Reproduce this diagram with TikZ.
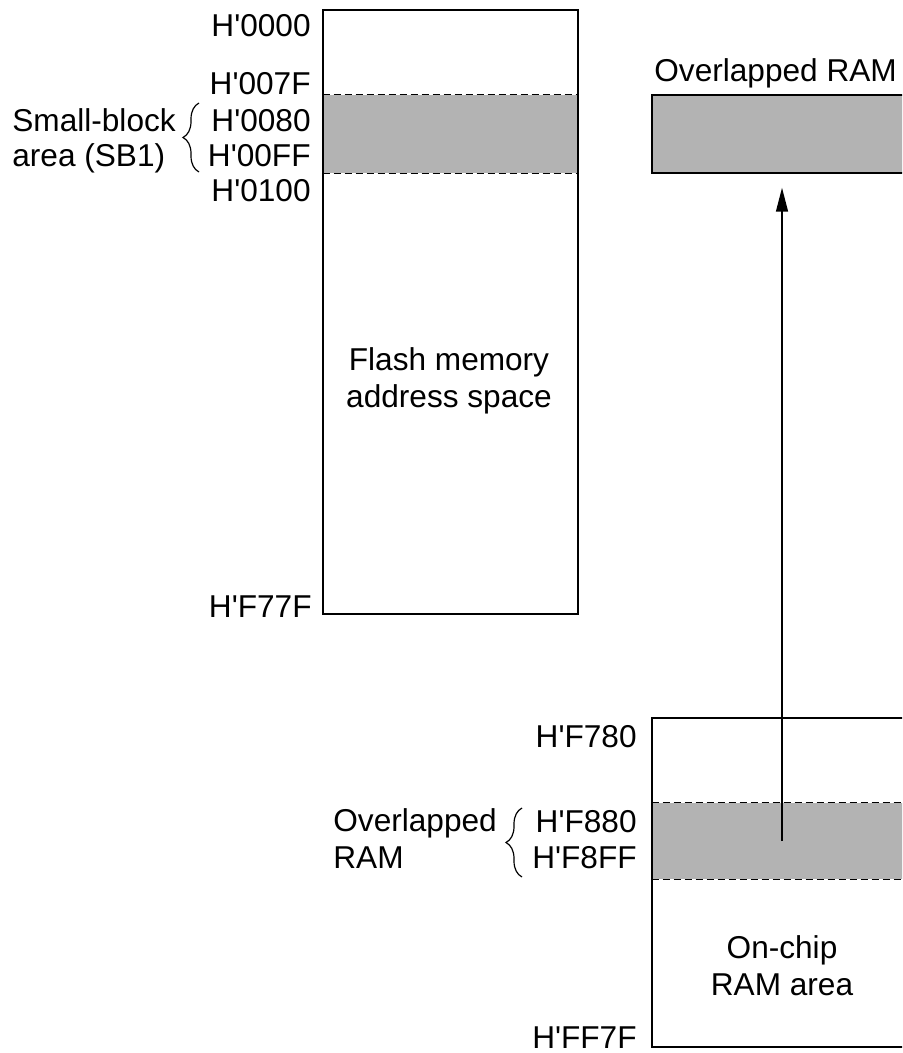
\documentclass[tikz,border=0pt]{standalone}
\usepackage{fontspec}
\setmainfont{Liberation Sans}
\usetikzlibrary{arrows.meta,decorations.pathreplacing}
\definecolor{bandcol}{RGB}{179,179,179}
\newcommand{\hx}[1]{H\textquotesingle#1}
\tikzset{
  membox/.style={draw,line width=0.75pt,inner sep=0pt},
  band/.style={fill=bandcol,inner sep=0pt},
  bandedge/.style={dash pattern=on 3.5pt off 2pt,line width=0.75pt},
  addr/.style={anchor=base east,inner sep=0pt,font=\fontsize{15.8}{18.5}\selectfont},
  note/.style={anchor=base west,align=left,inner sep=0pt,font=\fontsize{15.8}{18.5}\selectfont},
  caption/.style={anchor=base,align=center,inner sep=0pt,font=\fontsize{15.8}{18.5}\selectfont},
  arrow/.style={-{Triangle[length=12pt,width=6pt]},line width=0.75pt},
  curly/.style={decorate,decoration={brace,amplitude=8pt},line width=0.6pt}
}
\begin{document}
\begin{tikzpicture}[x=0.5pt,y=-0.5pt]
  \clip (0,0) rectangle (902,1053);
  % flash memory address space
  \node[band,minimum width=127.5pt,minimum height=39pt] (sb) at (450.5,134) {};
  \draw[bandedge] (sb.north west) -- (sb.north east);
  \draw[bandedge] (sb.south west) -- (sb.south east);
  \node[membox,minimum width=127.5pt,minimum height=302pt] (flash) at (450.5,312) {};
  \node[caption] (flashtxt) at (449,407) {Flash memory\\address space};
  \node[addr] (a0000) at (311,37) {\hx{0000}};
  \node[addr] (a007F) at (311,95) {\hx{007F}};
  \node[addr] (a0080) at (311,132) {\hx{0080}};
  \node[addr] (a00FF) at (311,167) {\hx{00FF}};
  \node[addr] (a0100) at (311,202) {\hx{0100}};
  \node[addr] (aF77F) at (312,617) {\hx{F77F}};
  \coordinate (sbtop) at (199,103);
  \coordinate (sbbot) at (199,172);
  \draw[curly] (sbbot) -- (sbtop);
  \node[note] (sbtxt) at (12,167) {Small-block\\[-1pt]area (SB1)};
  % overlapped RAM seen in flash space
  \node[band,draw,line width=0.75pt,minimum width=130pt,minimum height=39pt] (ovl) at (782,134) {};
  \node[note] (ovltxt) at (654,82) {Overlapped RAM};
  % on-chip RAM area
  \node[band,minimum width=130pt,minimum height=38pt] (rband) at (782,841) {};
  \draw[bandedge] (rband.north west) -- (rband.north east);
  \draw[bandedge] (rband.south west) -- (rband.south east);
  \node[membox,minimum width=130pt,minimum height=164.5pt] (ram) at (782,882.5) {};
  \node[caption] (ramtxt) at (782,995) {On-chip\\RAM area};
  \node[addr] (aF780) at (637,747) {\hx{F780}};
  \node[addr] (aF880) at (637,832) {\hx{F880}};
  \node[addr] (aF8FF) at (637,868) {\hx{F8FF}};
  \node[addr] (aFF7F) at (637,1048) {\hx{FF7F}};
  \coordinate (rtop) at (522,808);
  \coordinate (rbot) at (522,877);
  \draw[curly] (rbot) -- (rtop);
  \node[note] (rtxt) at (333,868) {Overlapped\\RAM};
  \draw[arrow,shorten >=7pt] (rband.center) -- (rband.center |- ovl.south);
\end{tikzpicture}
\end{document}
